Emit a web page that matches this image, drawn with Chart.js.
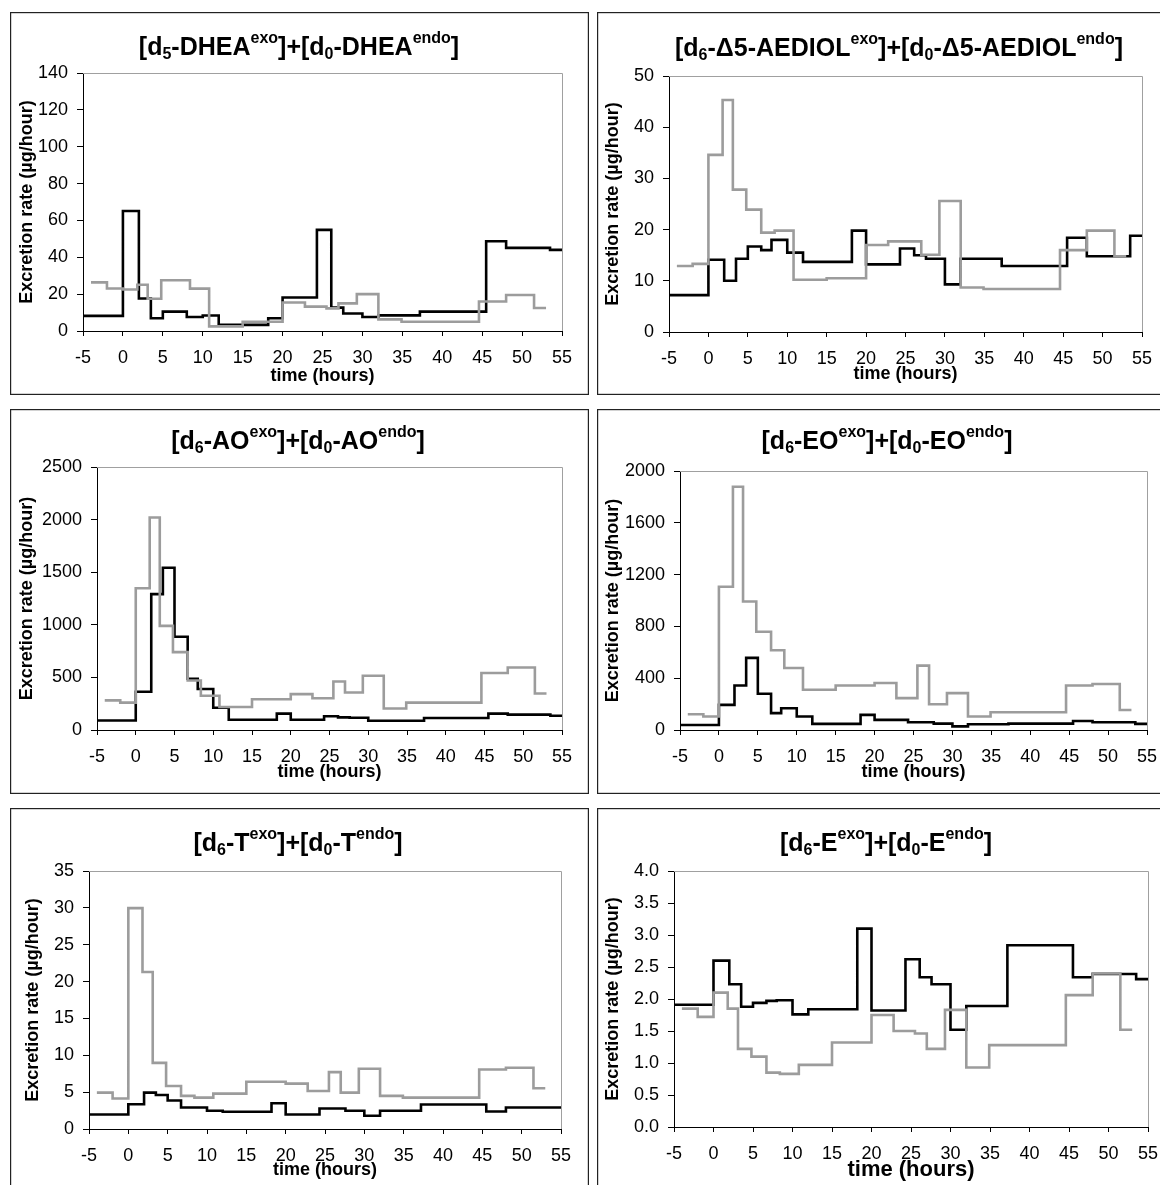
<!DOCTYPE html>
<html><head><meta charset="utf-8">
<script src="https://cdn.jsdelivr.net/npm/chart.js@4.4.1/dist/chart.umd.min.js"></script>
<style>
html,body{margin:0;padding:0;background:#fff;overflow:hidden;width:1160px;height:1185px;position:relative;}
canvas{position:absolute;}
</style></head><body>
<canvas id="c1"></canvas><canvas id="c2"></canvas><canvas id="c3"></canvas>
<canvas id="c4"></canvas><canvas id="c5"></canvas><canvas id="c6"></canvas>
<script>
// ---------- data ----------
const blackTimes = [-5, 0, 2, 3.5, 5, 6.7, 8, 10, 12, 18.2, 20, 24.3, 26.1, 27.6, 30, 32, 37.2, 45.5, 48, 53.5, 55];
const grayTimes  = [-4, -2, 0, 1.8, 3.1, 4.8, 6.7, 8.4, 10.8, 15, 20, 22.8, 25.5, 27, 29.3, 32, 34.9, 44.6, 48, 51.5, 53];
const xTicks = [-5, 0, 5, 10, 15, 20, 25, 30, 35, 40, 45, 50, 55];

const dheaBlack = [8.2, 65.1, 17.6, 6.9, 10.5, 10.5, 7.6, 8.4, 3.3, 6.9, 18.2, 54.9, 12.7, 9.5, 7.6, 8.5, 10.5, 48.7, 45.1, 44.0];
const dheaGray  = [26.4, 23.1, 22.5, 25.1, 17.5, 27.5, 27.5, 23.0, 2.5, 5.0, 15.5, 13.2, 12.3, 15.0, 20.0, 6.3, 5.0, 16.0, 19.5, 12.5];
const dheaTicks = [0, 20, 40, 60, 80, 100, 120, 140];

const aediolBlack = [7.2, 14.1, 10.0, 14.3, 16.7, 16.0, 18.0, 15.5, 13.7, 19.8, 13.2, 16.3, 15.0, 14.3, 9.3, 14.3, 12.9, 18.4, 14.8, 18.8];
const aediolGray  = [12.9, 13.3, 34.6, 45.3, 27.8, 23.9, 19.4, 19.8, 10.2, 10.5, 17.0, 17.7, 17.7, 15.1, 25.6, 8.7, 8.4, 16.0, 19.8, 14.8];
const aediolTicks = [0, 10, 20, 30, 40, 50];

const aoBlack = [91, 364, 1292, 1542, 886, 487, 390, 211, 97, 156, 97, 130, 120, 117, 88, 88, 114, 156, 146, 136];
const aoGray  = [282, 260, 1347, 2020, 990, 740, 470, 325, 218, 292, 341, 302, 461, 357, 516, 205, 260, 542, 594, 347];
const aoTicks = [0, 500, 1000, 1500, 2000, 2500];

const eoBlack = [39, 194, 344, 557, 280, 130, 168, 104, 47, 117, 78, 60, 60, 49, 28, 44, 49, 70, 60, 47];
const eoGray  = [122, 104, 1106, 1878, 992, 759, 616, 479, 311, 344, 363, 246, 497, 199, 285, 104, 137, 344, 355, 155];
const eoTicks = [0, 400, 800, 1200, 1600, 2000];

const tBlack = [1.97, 3.36, 4.93, 4.62, 3.86, 2.92, 2.92, 2.47, 2.33, 3.5, 1.97, 2.78, 2.78, 2.47, 1.8, 2.47, 3.32, 2.38, 2.92, 2.92];
const tGray  = [4.93, 4.13, 29.97, 21.3, 8.97, 5.83, 4.49, 4.26, 4.8, 6.42, 6.15, 5.16, 7.72, 4.93, 8.17, 4.49, 4.26, 8.08, 8.3, 5.52];
const tTicks = [0, 5, 10, 15, 20, 25, 30, 35];

const eBlack = [1.91, 2.60, 2.23, 1.88, 1.94, 1.97, 1.98, 1.76, 1.84, 3.10, 1.82, 2.62, 2.34, 2.23, 1.52, 1.89, 2.84, 2.34, 2.39, 2.31];
const eGray  = [1.85, 1.72, 2.10, 1.85, 1.22, 1.10, 0.85, 0.83, 0.97, 1.32, 1.75, 1.50, 1.46, 1.22, 1.83, 0.93, 1.28, 2.06, 2.40, 1.52];
const eTicks = [0, 0.5, 1.0, 1.5, 2.0, 2.5, 3.0, 3.5, 4.0];

// title parts: main, sub, main, sup, main, sub, main, sup, main
const dheaTitle   = ['[d', '5', '-DHEA', 'exo', ']+[d', '0', '-DHEA', 'endo', ']'];
const aediolTitle = ['[d', '6', '-\u03945-AEDIOL', 'exo', ']+[d', '0', '-\u03945-AEDIOL', 'endo', ']'];
const aoTitle     = ['[d', '6', '-AO', 'exo', ']+[d', '0', '-AO', 'endo', ']'];
const eoTitle     = ['[d', '6', '-EO', 'exo', ']+[d', '0', '-EO', 'endo', ']'];
const tTitle      = ['[d', '6', '-T', 'exo', ']+[d', '0', '-T', 'endo', ']'];
const eTitle      = ['[d', '6', '-E', 'exo', ']+[d', '0', '-E', 'endo', ']'];
const partKinds   = ['main', 'sub', 'main', 'sup', 'main', 'sub', 'main', 'sup', 'main'];

const yTitleText = 'Excretion rate (\u00b5g/hour)';
const xTitleText = 'time (hours)';

// ---------- drawing ----------
const FONT = "'Liberation Sans', Arial, Helvetica, sans-serif";

function stepPoints(times, vals) {
  return times.map((t, i) => ({ x: t, y: vals[Math.min(i, vals.length - 1)] }));
}

const deco = {
  id: 'deco',
  beforeDatasetsDraw(chart, args, o) {
    const ctx = chart.ctx, a = chart.chartArea;
    ctx.save();
    ctx.strokeStyle = '#a0a0a0'; ctx.lineWidth = 1;
    ctx.beginPath();
    ctx.moveTo(a.left, Math.round(a.top) + 0.5);
    ctx.lineTo(Math.round(a.right) + 0.5, Math.round(a.top) + 0.5);
    ctx.lineTo(Math.round(a.right) + 0.5, a.bottom);
    ctx.stroke();
    ctx.restore();
  },
  afterDraw(chart, args, o) {
    const ctx = chart.ctx, a = chart.chartArea;
    ctx.save();
    // panel border
    ctx.strokeStyle = '#222'; ctx.lineWidth = 1.2;
    ctx.strokeRect(0.6, 0.6, chart.width - 1.2, chart.height - 1.2);
    ctx.fillStyle = '#000';
    // title with sub/superscripts
    const mainF = 'bold ' + o.titleSize + 'px ' + FONT;
    const smallF = 'bold ' + o.scriptSize + 'px ' + FONT;
    let total = 0;
    const widths = o.title.map((s, i) => {
      ctx.font = partKinds[i] === 'main' ? mainF : smallF;
      const w = ctx.measureText(s).width; total += w; return w;
    });
    let x = o.titleX - total / 2;
    ctx.textAlign = 'left'; ctx.textBaseline = 'alphabetic';
    o.title.forEach((s, i) => {
      const k = partKinds[i];
      ctx.font = k === 'main' ? mainF : smallF;
      const dy = k === 'sup' ? -o.supRise : (k === 'sub' ? o.subDrop : 0);
      ctx.fillText(s, x, o.titleY + dy);
      x += widths[i];
    });
    // y title
    ctx.save();
    ctx.translate(o.yTitleX, (a.top + a.bottom) / 2);
    ctx.rotate(-Math.PI / 2);
    ctx.font = 'bold ' + o.axisTitleSize + 'px ' + FONT;
    ctx.textAlign = 'center'; ctx.textBaseline = 'middle';
    ctx.fillText(yTitleText, 0, 0);
    ctx.restore();
    // x title
    ctx.font = 'bold ' + o.xTitleSize + 'px ' + FONT;
    ctx.textAlign = 'center'; ctx.textBaseline = 'middle';
    ctx.fillText(xTitleText, (a.left + a.right) / 2, o.xTitleY);
    ctx.restore();
  }
};

function makeChart(id, box, plot, series, yTicks, title, lay) {
  const cv = document.getElementById(id);
  cv.width = box.w; cv.height = box.h;
  cv.style.left = box.x + 'px'; cv.style.top = box.y + 'px';
  cv.style.width = box.w + 'px'; cv.style.height = box.h + 'px';
  const yW = plot.l - box.x;
  const xH = box.y + box.h - plot.b;
  const dec = lay.decimals || 0;
  new Chart(cv.getContext('2d'), {
    type: 'line',
    data: {
      datasets: [
        { data: stepPoints(grayTimes, series.gray), borderColor: '#9c9c9c', borderWidth: 2.6, stepped: 'before', pointRadius: 0, fill: false },
        { data: stepPoints(blackTimes, series.black), borderColor: '#000000', borderWidth: 2.6, stepped: 'before', pointRadius: 0, fill: false }
      ]
    },
    options: {
      responsive: false, animation: false, devicePixelRatio: 1,
      layout: { autoPadding: false, padding: { left: 0, top: plot.t - box.y, right: box.x + box.w - plot.r, bottom: 0 } },
      plugins: { legend: { display: false }, title: { display: false }, tooltip: { enabled: false },
        deco: {
          title: title, titleSize: 25, scriptSize: 16, supRise: 12, subDrop: 4,
          titleX: lay.titleX - box.x, titleY: lay.titleY - box.y,
          yTitleX: lay.yTitleX - box.x, axisTitleSize: 18,
          xTitleY: lay.xTitleY - box.y, xTitleSize: lay.xTitleSize || 18
        } },
      scales: {
        x: {
          type: 'linear', min: xTicks[0], max: xTicks[xTicks.length - 1],
          afterBuildTicks: s => { s.ticks = xTicks.map(v => ({ value: v })); },
          afterFit: s => { s.height = xH; },
          ticks: { color: '#000', font: { family: FONT, size: 18 }, padding: lay.xPad, maxRotation: 0, autoSkip: false },
          grid: { drawOnChartArea: false, drawTicks: true, tickLength: 5, color: '#000', lineWidth: 1 },
          border: { display: true, color: '#000', width: 1 }
        },
        y: {
          type: 'linear', min: yTicks[0], max: yTicks[yTicks.length - 1],
          afterBuildTicks: s => { s.ticks = yTicks.map(v => ({ value: v })); },
          afterFit: s => { s.width = yW; },
          ticks: { color: '#000', font: { family: FONT, size: 18 }, padding: 9,
                   callback: v => Number(v).toFixed(dec) },
          grid: { drawOnChartArea: false, drawTicks: true, tickLength: 6, color: '#000', lineWidth: 1 },
          border: { display: true, color: '#000', width: 1 }
        }
      }
    },
    plugins: [deco]
  });
}

makeChart('c1', { x: 10, y: 12, w: 579, h: 383 }, { l: 83, r: 562, t: 73, b: 331 },
  { black: dheaBlack, gray: dheaGray }, dheaTicks, dheaTitle,
  { titleX: 299, titleY: 55, yTitleX: 27, xTitleY: 376, xPad: 11 });
makeChart('c2', { x: 597, y: 12, w: 700, h: 383 }, { l: 669, r: 1142, t: 76, b: 332 },
  { black: aediolBlack, gray: aediolGray }, aediolTicks, aediolTitle,
  { titleX: 899, titleY: 56, yTitleX: 613, xTitleY: 374, xPad: 11 });
makeChart('c3', { x: 10, y: 409, w: 579, h: 385 }, { l: 97, r: 562, t: 467, b: 730 },
  { black: aoBlack, gray: aoGray }, aoTicks, aoTitle,
  { titleX: 298, titleY: 449, yTitleX: 27, xTitleY: 772, xPad: 11 });
makeChart('c4', { x: 597, y: 409, w: 700, h: 385 }, { l: 680, r: 1147, t: 471, b: 730 },
  { black: eoBlack, gray: eoGray }, eoTicks, eoTitle,
  { titleX: 887, titleY: 449, yTitleX: 613, xTitleY: 772, xPad: 11 });
makeChart('c5', { x: 10, y: 808, w: 579, h: 500 }, { l: 89, r: 561, t: 871, b: 1129 },
  { black: tBlack, gray: tGray }, tTicks, tTitle,
  { titleX: 298, titleY: 851, yTitleX: 33, xTitleY: 1170, xPad: 11 });
makeChart('c6', { x: 597, y: 808, w: 700, h: 500 }, { l: 674, r: 1148, t: 871, b: 1127 },
  { black: eBlack, gray: eGray }, eTicks, eTitle,
  { titleX: 886, titleY: 851, yTitleX: 613, xTitleY: 1170, xPad: 11, xTitleSize: 22, decimals: 1 });
</script>
</body></html>
